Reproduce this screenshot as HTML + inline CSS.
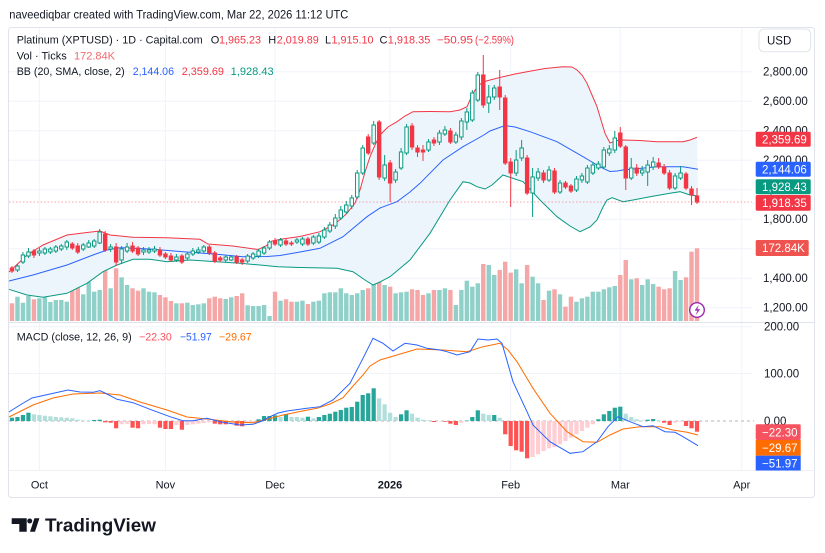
<!DOCTYPE html>
<html><head><meta charset="utf-8">
<style>
html,body{margin:0;padding:0;background:#fff;}
svg{display:block;font-family:"Liberation Sans",Arial,sans-serif;}
</style></head>
<body>
<svg id="s" width="825" height="553" viewBox="0 0 825 553" xmlns="http://www.w3.org/2000/svg">
<rect width="825" height="553" fill="#fff"/>
<text x="9.3" y="18.5" font-size="12" fill="#131722" textLength="339" lengthAdjust="spacingAndGlyphs">naveediqbar created with TradingView.com, Mar 22, 2026 11:12 UTC</text>
<rect x="8.5" y="27.5" width="806" height="470" rx="3" fill="#fff" stroke="#e0e3eb"/>

<!-- grid -->
<g stroke="#f0f3fa" stroke-width="1">
  <line x1="9" x2="752" y1="71.7" y2="71.7"/>
  <line x1="9" x2="752" y1="101.2" y2="101.2"/>
  <line x1="9" x2="752" y1="130.7" y2="130.7"/>
  <line x1="9" x2="752" y1="160.2" y2="160.2"/>
  <line x1="9" x2="752" y1="189.7" y2="189.7"/>
  <line x1="9" x2="752" y1="219.2" y2="219.2"/>
  <line x1="9" x2="752" y1="248.7" y2="248.7"/>
  <line x1="9" x2="752" y1="278.2" y2="278.2"/>
  <line x1="9" x2="752" y1="307.7" y2="307.7"/>
  <line x1="9" x2="752" y1="326.7" y2="326.7"/>
  <line x1="9" x2="752" y1="373.5" y2="373.5"/>
  <line x1="39.4" x2="39.4" y1="28" y2="470"/>
  <line x1="165.4" x2="165.4" y1="28" y2="470"/>
  <line x1="275" x2="275" y1="28" y2="470"/>
  <line x1="390" x2="390" y1="28" y2="470"/>
  <line x1="510.7" x2="510.7" y1="28" y2="470"/>
  <line x1="620.3" x2="620.3" y1="28" y2="470"/>
  <line x1="741.7" x2="741.7" y1="28" y2="470"/>
</g>
<line x1="8.5" x2="814.5" y1="322.5" y2="322.5" stroke="#e0e3eb"/>
<line x1="8.5" x2="814.5" y1="470.5" y2="470.5" stroke="#eef0f4"/>

<g id="vol"></g>
<polygon id="bbfill" fill="#edf5fc" stroke="none"/>
<polyline id="bbU" fill="none" stroke="#f23645" stroke-width="1"/>
<polyline id="bbM" fill="none" stroke="#2962ff" stroke-width="1"/>
<polyline id="bbL" fill="none" stroke="#089981" stroke-width="1"/>
<line x1="9" x2="752" y1="202" y2="202" stroke="#f23645" stroke-opacity="0.45" stroke-dasharray="1.5,2"/>
<g id="cdl"></g>

<!-- MACD -->
<line x1="9" x2="754" y1="421" y2="421" stroke="#b2b5be" stroke-dasharray="3,3"/>
<g id="hist"></g>
<polyline id="mS" fill="none" stroke="#ff6d00" stroke-width="1"/>
<polyline id="mB" fill="none" stroke="#2962ff" stroke-width="1"/>

<!-- lightning icon -->
<circle cx="697" cy="310" r="7.3" fill="#fff" stroke="#9c27b0" stroke-width="1.4"/>
<path d="M698.8 304.8 L694.6 310.6 H697.4 L695.6 315.2 L700.2 309.2 H697.3 Z" fill="#9c27b0"/>

<!-- Legend -->
<g font-size="11" fill="#131722">
  <text x="16.7" y="43.5" textLength="186" lengthAdjust="spacingAndGlyphs">Platinum (XPTUSD) · 1D · Capital.com</text>
  <text x="210.7" y="43.5">O</text>
  <text x="219" y="43.5" fill="#f23645" textLength="42" lengthAdjust="spacingAndGlyphs">1,965.23</text>
  <text x="268.3" y="43.5">H</text>
  <text x="276.8" y="43.5" fill="#f23645" textLength="42" lengthAdjust="spacingAndGlyphs">2,019.89</text>
  <text x="325" y="43.5">L</text>
  <text x="331.5" y="43.5" fill="#f23645" textLength="42" lengthAdjust="spacingAndGlyphs">1,915.10</text>
  <text x="379.5" y="43.5">C</text>
  <text x="387.8" y="43.5" fill="#f23645" textLength="42.5" lengthAdjust="spacingAndGlyphs">1,918.35</text>
  <text x="437" y="43.5" fill="#f23645" textLength="36" lengthAdjust="spacingAndGlyphs">−50.95</text>
  <text x="475" y="43.5" fill="#f23645" textLength="39" lengthAdjust="spacingAndGlyphs">(−2.59%)</text>

  <text x="16.7" y="59.5" textLength="50" lengthAdjust="spacingAndGlyphs">Vol · Ticks</text>
  <text x="74" y="59.5" fill="#f06a70" textLength="41" lengthAdjust="spacingAndGlyphs">172.84K</text>

  <text x="16.7" y="75" textLength="108" lengthAdjust="spacingAndGlyphs">BB (20, SMA, close, 2)</text>
  <text x="132.7" y="75" fill="#2962ff" textLength="41.3" lengthAdjust="spacingAndGlyphs">2,144.06</text>
  <text x="181.7" y="75" fill="#f23645" textLength="42.3" lengthAdjust="spacingAndGlyphs">2,359.69</text>
  <text x="230.7" y="75" fill="#089981" textLength="43" lengthAdjust="spacingAndGlyphs">1,928.43</text>

  <text x="16.7" y="340.7" textLength="115" lengthAdjust="spacingAndGlyphs">MACD (close, 12, 26, 9)</text>
  <text x="139.3" y="340.7" fill="#f7525f" textLength="32.4" lengthAdjust="spacingAndGlyphs">−22.30</text>
  <text x="180" y="340.7" fill="#2962ff" textLength="31.7" lengthAdjust="spacingAndGlyphs">−51.97</text>
  <text x="219" y="340.7" fill="#ff6d00" textLength="32.7" lengthAdjust="spacingAndGlyphs">−29.67</text>
</g>

<!-- Price axis -->
<rect x="759" y="29" width="51.7" height="22.7" rx="5" fill="#fff" stroke="#e0e3eb"/>
<text x="767" y="44.3" font-size="11.5" fill="#131722">USD</text>
<g font-size="11.5" fill="#131722">
  <text x="763" y="75.7">2,800.00</text>
  <text x="763" y="105.2">2,600.00</text>
  <text x="763" y="134.7">2,400.00</text>
  <text x="763" y="164.2">2,200.00</text>
  <text x="763" y="193.7">2,000.00</text>
  <text x="763" y="223.2">1,800.00</text>
  <text x="763" y="252.7">1,600.00</text>
  <text x="763" y="282.2">1,400.00</text>
  <text x="763" y="311.7">1,200.00</text>
  <text x="764" y="330.7">200.00</text>
  <text x="764" y="377.5">100.00</text>
  <text x="764" y="425">0.00</text>
</g>
<rect x="755.7" y="131.7" width="55" height="15" rx="1.5" fill="#f23645"/>
<rect x="755.7" y="161.7" width="55" height="15" rx="1.5" fill="#2962ff"/>
<rect x="755.7" y="179.3" width="55" height="15" rx="1.5" fill="#089981"/>
<rect x="755.7" y="195" width="55" height="15.7" rx="1.5" fill="#f23645"/>
<rect x="755.7" y="240" width="53" height="16" rx="1.5" fill="#ef5350"/>
<rect x="755.7" y="424.3" width="45" height="15.7" rx="1.5" fill="#f7525f"/>
<rect x="755.7" y="440" width="45" height="15.7" fill="#ff6d00"/>
<rect x="755.7" y="455.7" width="45" height="14.8" fill="#2962ff"/>
<g font-size="11.5" fill="#fff">
  <text x="762" y="143.3">2,359.69</text>
  <text x="762" y="173.3">2,144.06</text>
  <text x="762" y="190.9">1,928.43</text>
  <text x="762" y="207">1,918.35</text>
  <text x="762" y="252.2">172.84K</text>
  <text x="762" y="436.3">−22.30</text>
  <text x="762" y="452">−29.67</text>
  <text x="762" y="467.5">−51.97</text>
</g>

<!-- Time axis -->
<g font-size="11" fill="#131722" text-anchor="middle">
  <text x="39.4" y="488.3">Oct</text>
  <text x="165.4" y="488.3">Nov</text>
  <text x="275" y="488.3">Dec</text>
  <text x="390" y="488.3" font-weight="bold">2026</text>
  <text x="510.7" y="488.3">Feb</text>
  <text x="620.3" y="488.3">Mar</text>
  <text x="741.7" y="488.3">Apr</text>
</g>

<!-- Logo -->
<path d="M11.7 518.3 H26.7 V531.7 H19.3 V524 H11.7 Z" fill="#131722"/>
<circle cx="29.7" cy="521" r="2.5" fill="#131722"/>
<polygon points="30,531.7 35,531.7 39.4,518.3 34.4,518.3" fill="#131722"/>
<text x="45" y="531.7" font-size="18.5" font-weight="bold" fill="#131722" textLength="111" lengthAdjust="spacingAndGlyphs">TradingView</text>
</svg>

<script>
(function(){
const X=i=>12+5.48*i;
const C=[
[268,271,0,266,273],[266,270,1,264,272],[255,262,1,252,264],[252,256,1,248,258],[251,255,0,249,258],
[251,253,1,248,256],[249,253,1,247,255],[249,252,1,247,254],[247,251,1,245,253],[246,249,1,244,251],
[242,247,1,240,250],[244,248,0,242,250],[246,252,0,243,254],[245,249,1,243,251],[243,247,1,240,248],
[241,246,1,239,248],[232,243,1,229,244],[234,250,0,231,252],[247,249,1,244,252],[247,262,0,243,266],
[249,260,1,246,264],[247,251,1,243,253],[246,251,0,242,253],[248,254,0,246,256],[250,252,1,247,255],
[250,252,1,247,254],[249,251,1,246,253],[250,255,0,247,257],[254,257,0,252,259],[256,260,0,253,262],
[257,260,1,254,262],[256,262,0,254,264],[254,258,1,252,260],[251,254,1,248,256],[250,252,1,247,254],
[247,251,1,245,253],[247,253,0,245,255],[253,261,0,251,263],[258,260,0,256,262],[257,260,1,255,262],
[257,260,1,255,261],[257,262,0,255,264],[260,262,0,258,265],[256,261,1,254,263],[254,258,1,252,260],
[251,256,1,249,258],[248,253,1,246,255],[242,248,1,240,250],[241,244,0,238,246],[240,245,1,238,247],
[241,244,0,239,246],[243,244,0,241,246],[240,242,1,238,244],[239,244,1,237,246],[239,244,0,237,246],
[237,243,1,235,245],[236,242,1,233,244],[230,237,1,227,239],[225,231,1,222,233],[218,226,1,214,229],
[210,218,1,206,220],[205,212,1,201,214],[198,206,1,195,209],[173,197,1,170,199],[148,173,1,145,175],
[137,153,0,134,155],[125,143,1,121,145],[122,177,0,120,180],[165,178,1,155,181],[163,183,0,160,202],
[172,180,1,169,183],[152,168,1,148,170],[127,153,1,124,155],[126,147,0,123,150],[148,152,0,145,157],
[150,152,0,145,161],[142,150,1,139,152],[140,143,0,137,146],[133,142,1,130,145],[130,134,1,126,136],
[131,142,0,128,144],[135,142,1,132,144],[121,137,1,118,140],[112,122,1,108,130],[93,120,1,90,122],
[75,100,1,72,102],[75,105,0,55,108],[97,103,1,85,113],[88,97,1,85,100],[87,97,0,70,110],
[98,163,0,95,165],[162,173,0,158,207],[160,173,1,150,176],[148,158,1,140,161],[158,193,0,155,195],
[177,193,1,168,217],[172,178,1,168,181],[173,180,0,170,183],[170,180,1,166,182],[171,192,0,168,194],
[183,192,1,180,194],[183,187,0,181,189],[186,191,0,184,193],[179,190,1,176,192],[176,180,1,173,183],
[168,182,1,165,184],[165,173,1,162,175],[164,168,1,161,170],[150,167,1,147,169],[149,153,1,145,156],
[138,150,1,131,153],[133,146,0,127,148],[147,178,0,145,190],[168,178,1,158,180],[168,173,0,164,176],
[170,173,1,166,176],[165,172,1,160,186],[162,167,1,157,170],[163,167,0,158,169],[167,173,0,164,175],
[173,188,0,170,190],[176,188,1,173,190],[173,178,1,166,180],[174,188,0,172,190],[189,195,0,186,205],
[196,202,0,188,204]];
const V=[303.3,296.7,302.7,296,299.3,298.3,296.7,302,300,300,301.7,289.3,283.3,294.3,281.7,291.7,290,268.3,288.3,268.3,
277.3,285,288.3,290.7,288.3,291.7,292.3,295,297.3,301,303.3,303.3,302.7,305,304.3,303.3,298.3,296.7,298.3,299,
297.3,296,293.3,305.3,306,306,305,316,291.7,300.7,299.3,301.7,301.7,300.7,304,301.7,300.7,293.3,292.3,292.3,
288.3,293.3,295,293.3,290,288.3,275,270.7,285,286.7,293.3,292.3,291.7,289.3,290,295,293.3,290,290,288.3,
290,305,290,280.7,286.7,283.3,264,265,275,270,261.7,272.7,269.3,283.3,265,276.7,283.3,300,290.7,289.3,
294.3,306.7,296.7,301.7,298.3,296.7,291.7,291.7,289.3,287.3,286,275,260,279.3,278.3,285,279.3,284,286.7,289.3,
288.3,271,280,277.3,251.7,248.3];
const H=[[3.3,0],[4,0],[6,0],[8.3,0],[6.7,1],[6,1],[5.3,1],[4.7,1],[4,1],[3.7,1],
[3.3,1],[2.7,1],[1.3,1],[0.7,1],[0.4,1],[1,0],[1.3,0],[-1.3,2],[-1.7,2],[-7.3,2],
[-3.3,3],[-2.7,3],[-6.7,2],[-7.3,2],[-3.3,3],[-3,3],[-3.3,3],[-6.7,2],[-8,2],[-8,2],
[-4,3],[-8.7,2],[-4,3],[-3.3,3],[-2.7,3],[-2,3],[-1.3,3],[-2.7,2],[-3.3,2],[-3.3,2],
[-2,3],[-4.7,2],[-5.3,2],[-2,3],[-1,3],[1.7,0],[5,0],[5,0],[5.7,0],[4,1],
[6.7,0],[4,1],[4,1],[3.3,1],[4.3,0],[2.7,1],[4,0],[6,0],[7.3,0],[9.3,0],
[11,0],[13.3,0],[14,0],[19.3,0],[26,0],[27.7,0],[32.7,0],[22.7,1],[16.7,1],[8.3,1],
[4,1],[6.7,0],[10.7,0],[7.3,1],[3.3,1],[1.3,1],[0.7,1],[-1,2],[-0.5,3],[-0.7,2],
[-2.7,2],[-4,2],[-1.7,3],[0.5,0],[4,0],[10.7,0],[7.3,1],[6,1],[6,0],[3.3,1],
[-13.3,2],[-25,2],[-29.3,2],[-30.7,2],[-37.3,2],[-36,3],[-33.3,3],[-30,3],[-27.3,3],[-26,3],
[-23.3,3],[-20,3],[-16.7,3],[-13.3,3],[-10,3],[-6.7,3],[-3.3,3],[1.7,0],[6.7,0],[10,0],
[13.3,0],[14.3,0],[7.3,1],[4,1],[1.7,1],[0.7,1],[1.3,0],[2,0],[0.7,1],[-1.7,2],
[-4,2],[-1.7,3],[-0.7,3],[-5,2],[-7.3,2],[-10.7,2]];
const U="9,272 27,255 43,245 67,235 87,232.5 100,231 110,235 133,237.3 167,237.7 200,239.3 208,244 233,246 258,249.5 266,246 272,241 282,239 300,236.5 320,231.7 335,224 347,213.3 355,203 360,190 365,172 370,156.7 375,145 380,135 388,127 397,121.7 405,116 413,111.7 430,111.5 450,111.7 460,110 467,106.7 473,93.3 478,86 483,82 490,80 503,76.7 515,74 527,71.7 545,68.5 563,66.7 572,67 577,70 582,75 587,83.3 592,95 597,106.7 601,120 605,133.3 610,143 617,140.5 623,140 640,140.5 657,141.7 683,141.7 690,140 697,137.3";
const M="9,281 33,275 67,265 93,255 107,250 120,247.7 150,249 183,251.7 217,254.3 243,256.7 267,256.5 280,255.5 300,252 320,248.3 343,236.7 367,216.7 380,208 397,201.7 410,192 420,183.3 443,160 463,146.7 475,140 483,135.5 490,131 505,125.5 515,127 530,131.7 557,141.7 583,156.7 597,165 603,168.3 610,171.5 617,171 623,170 657,166.7 683,166.7 698,169.3";
const L="9,289.3 27,295 43,297.3 67,293.3 87,283.3 103,271.7 117,265 133,259.3 150,259.3 167,261.7 190,260 217,261.7 240,263.3 260,265 278,266.7 300,267.5 337,268.3 353,271.7 365,280 373,285 380,282 390,276.7 410,260 430,233.3 450,200 463,181.7 470,183 477,186.7 485,189 492,185 503,175 512,178 523,181.7 540,200 557,216.7 570,226 580,231.7 590,227 597,220 603,207 607,200 612,197.7 623,201.7 633,200 650,196.7 670,193.3 680,191.7 690,195 698,196";
const MB="9,412 20,405 32,398 50,394 68,390 80,392 93,392.3 100,390.7 107,394 117,399.3 133,402.7 150,409.3 170,416.7 183,420.7 193,420.7 207,418.3 220,421.7 240,425 253,424.3 262,421 270,416.7 278,413 287,411 307,408.3 320,406.7 333,400 350,383.3 363,358.3 373,338.3 383,343.3 393,351 405,343.3 417,345 427,348.3 440,350 447,351.7 457,355 470,351.7 478,339 488,340 497,339 502,343.3 513,381.7 527,411.7 533,425 550,441.7 570,453.3 583,451.7 597,441.7 608,426.7 618,416.7 630,421.7 643,426.7 653,425.7 665,431.7 675,432.3 683,436.7 698,445.7";
const MS="9,417 33,405 53,398 73,394 100,393 120,395 140,402 167,410 187,417 207,419 233,422 253,422.7 268,419 283,415 300,411.5 317,408.3 330,404 343,397.7 353,386 363,375 370,366 380,360 397,355 417,349 443,350 467,351.7 483,346.7 500,343.3 508,350 517,361.7 533,388.3 550,413.3 567,431.7 583,441.7 597,442.3 610,435 623,429 640,426.7 660,426.7 673,430 687,432.3 698,435";
const g=id=>document.getElementById(id);
g('bbU').setAttribute('points',U);
g('bbM').setAttribute('points',M);
g('bbL').setAttribute('points',L);
g('mB').setAttribute('points',MB);
g('mS').setAttribute('points',MS);
g('bbfill').setAttribute('points',U+' '+L.split(' ').reverse().join(' '));
let s='';
V.forEach((v,i)=>{const up=C[i][2];s+='<rect x="'+(X(i)-2.2).toFixed(2)+'" y="'+v+'" width="4.4" height="'+(321-v).toFixed(2)+'" fill="'+(up?'#8fd0c9':'#f5a6a6')+'"/>';});
g('vol').innerHTML=s;
s='';
C.forEach((c,i)=>{const x=X(i).toFixed(2);const col=c[2]?'#089981':'#f23645';
s+='<line x1="'+x+'" x2="'+x+'" y1="'+c[3]+'" y2="'+c[4]+'" stroke="'+col+'" stroke-width="1"/>';
const h=Math.max(c[1]-c[0],1);
s+='<rect x="'+(X(i)-1.7).toFixed(2)+'" y="'+c[0]+'" width="3.4" height="'+h+'" fill="'+(c[2]?'#fff':col)+'" stroke="'+col+'" stroke-width="1"/>';});
g('cdl').innerHTML=s;
s='';
const cols=['#26a69a','#b2dfdb','#ff5252','#ffcdd2'];
H.forEach((h,i)=>{const v=h[0];const y=v>0?421-v:421;s+='<rect x="'+(X(i)-2.1).toFixed(2)+'" y="'+y.toFixed(2)+'" width="4.2" height="'+Math.abs(v).toFixed(2)+'" fill="'+cols[h[1]]+'"/>';});
g('hist').innerHTML=s;
})();
</script>
</body></html>
